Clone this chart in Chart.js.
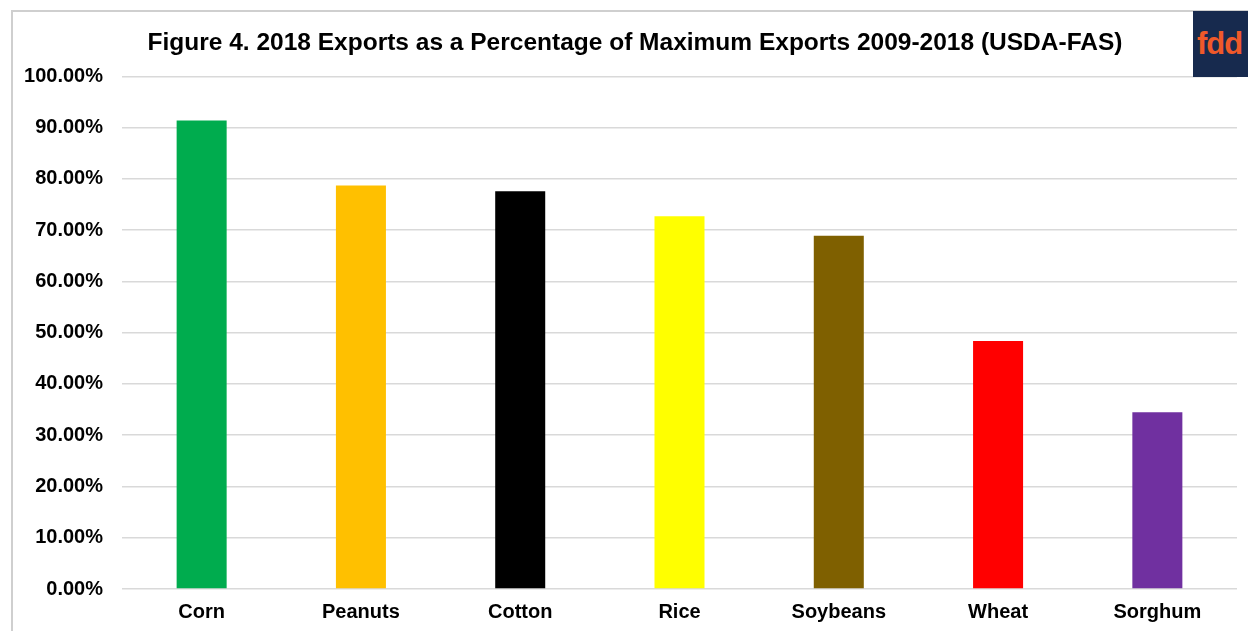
<!DOCTYPE html>
<html>
<head>
<meta charset="utf-8">
<script src="https://cdn.jsdelivr.net/npm/chart.js@4"></script>
<style>
  html, body { margin: 0; padding: 0; background: #ffffff; }
  #wrap { position: relative; width: 1248px; height: 631px; overflow: hidden; background: #ffffff; }
  #frame { position: absolute; left: 11px; top: 10px; width: 1260px; height: 700px;
           border-left: 2px solid #cfcfcf; border-top: 2px solid #cfcfcf; }
  #logo { position: absolute; left: 1193px; top: 11px; width: 70px; height: 66px; background: #172a4e;
          font-family: "Liberation Sans", Arial, sans-serif; font-weight: bold; font-size: 31px;
          color: #f0592a; line-height: 66px; padding-left: 4px; box-sizing: border-box; letter-spacing: -1px; }
  canvas { position: absolute; left: 0; top: 0; }
</style>
</head>
<body>
<div id="wrap">
  <div id="frame"></div>
  <canvas id="chart" width="1248" height="631"></canvas>
  <div id="logo">fdd</div>
</div>
<script>
// Crop exports in 2018 as a share of their 2009-2018 maximum (percent)
const crops = ['Corn', 'Peanuts', 'Cotton', 'Rice', 'Soybeans', 'Wheat', 'Sorghum'];
const sharePct = [91.4, 78.7, 77.6, 72.7, 68.9, 48.4, 34.5];
const barColors = ['#00ac4e', '#ffc000', '#000000', '#ffff00', '#7f6000', '#ff0000', '#7030a0'];
const yTicks = [0, 10, 20, 30, 40, 50, 60, 70, 80, 90, 100];
const titleText = 'Figure 4. 2018 Exports as a Percentage of Maximum Exports 2009-2018 (USDA-FAS)';

const FONT = '"Liberation Sans", Arial, sans-serif';

// Nudge the title's centre to the right of the canvas midpoint
const titleOffset = {
  id: 'titleOffset',
  afterLayout(chart) {
    if (chart.titleBlock) chart.titleBlock.left += 33;
  }
};

new Chart(document.getElementById('chart'), {
  type: 'bar',
  data: {
    labels: crops,
    datasets: [{
      data: sharePct,
      backgroundColor: barColors,
      borderWidth: 0,
      barPercentage: 0.314,
      categoryPercentage: 1.0
    }]
  },
  options: {
    responsive: false,
    animation: false,
    devicePixelRatio: 1,
    layout: { padding: { top: 29, right: 11, left: 0, bottom: 0 } },
    plugins: {
      legend: { display: false },
      tooltip: { enabled: false },
      title: {
        display: true,
        text: titleText,
        color: '#000000',
        font: { family: FONT, size: 24.5, weight: 'bold' },
        padding: { top: 0, bottom: 18 }
      }
    },
    scales: {
      x: {
        grid: { display: false, drawTicks: false },
        border: { display: false },
        ticks: {
          color: '#000000',
          padding: 11,
          font: { family: FONT, size: 20, weight: 'bold' }
        },
        afterFit: s => { s.height = 42; }
      },
      y: {
        min: 0,
        max: 100,
        afterBuildTicks: s => { s.ticks = yTicks.map(v => ({ value: v })); },
        grid: { color: '#d9d9d9', lineWidth: 1.5, drawTicks: false },
        border: { display: false },
        ticks: {
          color: '#000000',
          padding: 19,
          font: { family: FONT, size: 20, weight: 'bold' },
          callback: v => v.toFixed(2) + '%'
        },
        afterFit: s => { s.width = 122; }
      }
    }
  },
  plugins: [titleOffset]
});
</script>
</body>
</html>
